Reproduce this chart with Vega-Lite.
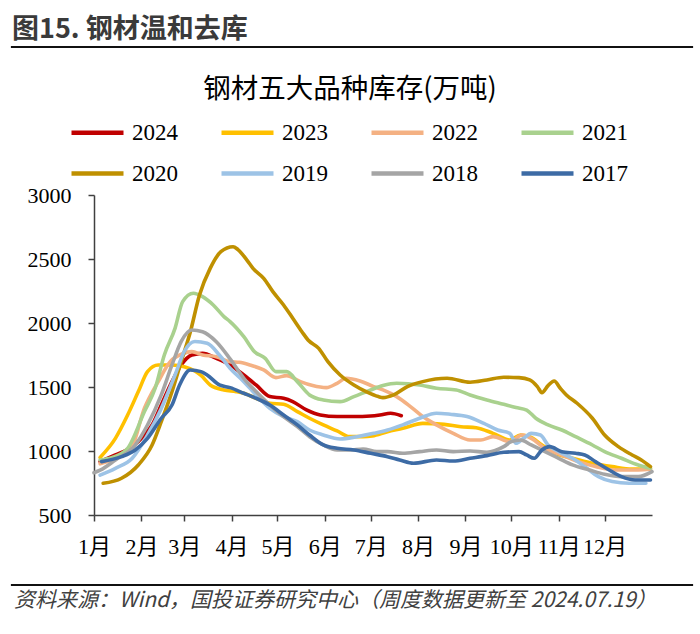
{
"$schema": "https://vega.github.io/schema/vega-lite/v6.json",
"padding": {"left": 10, "right": 10, "top": 14, "bottom": 0},
"background": "white",
"columns": 1,
"spacing": 26,
"align": "none",
"resolve": {"legend": {"color": "independent"}},
"config": {"view": {"stroke": null}, "font": "Liberation Serif"},
"concat": [
{
"width": 680, "height": 0.01,
"view": {"stroke": "#111111", "strokeWidth": 2.2},
"title": {"text": "图15. 钢材温和去库", "anchor": "start", "font": "Noto Sans CJK SC", "fontSize": 27, "fontWeight": "bold", "color": "#3a3a3a", "offset": 3},
"data": {"values": []},
"mark": "text"
},
{
"hconcat": [
{
"width": 0.01, "height": 0.01,
"data": {"values": []},
"mark": "text"
},
{
"width": 558, "height": 320,
"view": {"stroke": null},
"title": {"text": "钢材五大品种库存(万吨)", "font": "Noto Sans CJK SC", "fontSize": 27.5, "fontWeight": "normal", "color": "#000000", "anchor": "middle", "frame": "group", "dx": -23, "offset": 1},
"data": {"values": [
{"year":"2024","d":4,"v":917},{"year":"2024","d":14,"v":969},{"year":"2024","d":25,"v":1034},{"year":"2024","d":33,"v":1125},{"year":"2024","d":38,"v":1203},{"year":"2024","d":44,"v":1359},{"year":"2024","d":51,"v":1542},{"year":"2024","d":57,"v":1672},{"year":"2024","d":64,"v":1750},{"year":"2024","d":71,"v":1763},{"year":"2024","d":80,"v":1724},{"year":"2024","d":89,"v":1672},{"year":"2024","d":98,"v":1594},{"year":"2024","d":106,"v":1516},{"year":"2024","d":115,"v":1425},{"year":"2024","d":124,"v":1412},{"year":"2024","d":130,"v":1386},{"year":"2024","d":139,"v":1321},{"year":"2024","d":148,"v":1281},{"year":"2024","d":159,"v":1269},{"year":"2024","d":170,"v":1269},{"year":"2024","d":181,"v":1273},{"year":"2024","d":187,"v":1281},{"year":"2024","d":194,"v":1295},{"year":"2024","d":201,"v":1276},
{"year":"2023","d":4,"v":950},{"year":"2023","d":14,"v":1099},{"year":"2023","d":22,"v":1281},{"year":"2023","d":29,"v":1464},{"year":"2023","d":35,"v":1620},{"year":"2023","d":42,"v":1672},{"year":"2023","d":51,"v":1672},{"year":"2023","d":59,"v":1659},{"year":"2023","d":66,"v":1625},{"year":"2023","d":70,"v":1590},{"year":"2023","d":76,"v":1516},{"year":"2023","d":85,"v":1477},{"year":"2023","d":93,"v":1464},{"year":"2023","d":98,"v":1451},{"year":"2023","d":106,"v":1412},{"year":"2023","d":115,"v":1373},{"year":"2023","d":124,"v":1365},{"year":"2023","d":133,"v":1308},{"year":"2023","d":141,"v":1256},{"year":"2023","d":150,"v":1204},{"year":"2023","d":159,"v":1157},{"year":"2023","d":167,"v":1112},{"year":"2023","d":176,"v":1112},{"year":"2023","d":182,"v":1118},{"year":"2023","d":192,"v":1151},{"year":"2023","d":202,"v":1177},{"year":"2023","d":215,"v":1216},{"year":"2023","d":229,"v":1208},{"year":"2023","d":240,"v":1190},{"year":"2023","d":250,"v":1182},{"year":"2023","d":261,"v":1138},{"year":"2023","d":272,"v":1086},{"year":"2023","d":279,"v":1125},{"year":"2023","d":285,"v":1112},{"year":"2023","d":293,"v":1047},{"year":"2023","d":302,"v":982},{"year":"2023","d":313,"v":943},{"year":"2023","d":326,"v":904},{"year":"2023","d":339,"v":878},{"year":"2023","d":352,"v":859},{"year":"2023","d":364,"v":859},
{"year":"2022","d":4,"v":900},{"year":"2022","d":14,"v":940},{"year":"2022","d":24,"v":1010},{"year":"2022","d":33,"v":1334},{"year":"2022","d":42,"v":1542},{"year":"2022","d":50,"v":1700},{"year":"2022","d":58,"v":1760},{"year":"2022","d":64,"v":1776},{"year":"2022","d":71,"v":1750},{"year":"2022","d":80,"v":1737},{"year":"2022","d":89,"v":1698},{"year":"2022","d":95,"v":1693},{"year":"2022","d":102,"v":1672},{"year":"2022","d":111,"v":1633},{"year":"2022","d":119,"v":1573},{"year":"2022","d":126,"v":1589},{"year":"2022","d":135,"v":1542},{"year":"2022","d":143,"v":1511},{"year":"2022","d":152,"v":1495},{"year":"2022","d":159,"v":1529},{"year":"2022","d":165,"v":1568},{"year":"2022","d":174,"v":1547},{"year":"2022","d":183,"v":1503},{"year":"2022","d":189,"v":1477},{"year":"2022","d":198,"v":1425},{"year":"2022","d":207,"v":1347},{"year":"2022","d":215,"v":1269},{"year":"2022","d":224,"v":1204},{"year":"2022","d":235,"v":1138},{"year":"2022","d":246,"v":1086},{"year":"2022","d":253,"v":1086},{"year":"2022","d":261,"v":1112},{"year":"2022","d":272,"v":1073},{"year":"2022","d":280,"v":1125},{"year":"2022","d":286,"v":1099},{"year":"2022","d":295,"v":1021},{"year":"2022","d":306,"v":969},{"year":"2022","d":317,"v":917},{"year":"2022","d":328,"v":878},{"year":"2022","d":341,"v":852},{"year":"2022","d":356,"v":852},{"year":"2022","d":364,"v":859},
{"year":"2021","d":4,"v":930},{"year":"2021","d":12,"v":950},{"year":"2021","d":18,"v":980},{"year":"2021","d":22,"v":1021},{"year":"2021","d":33,"v":1308},{"year":"2021","d":40,"v":1490},{"year":"2021","d":46,"v":1750},{"year":"2021","d":53,"v":1958},{"year":"2021","d":58,"v":2167},{"year":"2021","d":65,"v":2232},{"year":"2021","d":71,"v":2206},{"year":"2021","d":78,"v":2141},{"year":"2021","d":85,"v":2050},{"year":"2021","d":89,"v":2011},{"year":"2021","d":98,"v":1893},{"year":"2021","d":105,"v":1776},{"year":"2021","d":112,"v":1724},{"year":"2021","d":119,"v":1620},{"year":"2021","d":126,"v":1620},{"year":"2021","d":133,"v":1542},{"year":"2021","d":141,"v":1438},{"year":"2021","d":150,"v":1399},{"year":"2021","d":161,"v":1386},{"year":"2021","d":170,"v":1425},{"year":"2021","d":181,"v":1477},{"year":"2021","d":189,"v":1511},{"year":"2021","d":198,"v":1529},{"year":"2021","d":213,"v":1516},{"year":"2021","d":224,"v":1490},{"year":"2021","d":237,"v":1477},{"year":"2021","d":246,"v":1438},{"year":"2021","d":257,"v":1399},{"year":"2021","d":268,"v":1365},{"year":"2021","d":276,"v":1340},{"year":"2021","d":283,"v":1320},{"year":"2021","d":289,"v":1256},{"year":"2021","d":297,"v":1204},{"year":"2021","d":306,"v":1164},{"year":"2021","d":315,"v":1112},{"year":"2021","d":326,"v":1047},{"year":"2021","d":334,"v":995},{"year":"2021","d":345,"v":943},{"year":"2021","d":356,"v":891},{"year":"2021","d":364,"v":865},
{"year":"2020","d":6,"v":748},{"year":"2020","d":18,"v":787},{"year":"2020","d":29,"v":891},{"year":"2020","d":38,"v":1047},{"year":"2020","d":44,"v":1229},{"year":"2020","d":51,"v":1464},{"year":"2020","d":57,"v":1698},{"year":"2020","d":63,"v":1930},{"year":"2020","d":69,"v":2219},{"year":"2020","d":76,"v":2427},{"year":"2020","d":83,"v":2557},{"year":"2020","d":91,"v":2596},{"year":"2020","d":94,"v":2575},{"year":"2020","d":100,"v":2492},{"year":"2020","d":104,"v":2427},{"year":"2020","d":111,"v":2349},{"year":"2020","d":117,"v":2245},{"year":"2020","d":124,"v":2141},{"year":"2020","d":130,"v":2037},{"year":"2020","d":136,"v":1932},{"year":"2020","d":140,"v":1867},{"year":"2020","d":147,"v":1802},{"year":"2020","d":153,"v":1698},{"year":"2020","d":161,"v":1594},{"year":"2020","d":170,"v":1516},{"year":"2020","d":178,"v":1464},{"year":"2020","d":186,"v":1425},{"year":"2020","d":189,"v":1417},{"year":"2020","d":196,"v":1438},{"year":"2020","d":205,"v":1503},{"year":"2020","d":215,"v":1542},{"year":"2020","d":231,"v":1568},{"year":"2020","d":246,"v":1537},{"year":"2020","d":257,"v":1555},{"year":"2020","d":268,"v":1576},{"year":"2020","d":278,"v":1573},{"year":"2020","d":285,"v":1555},{"year":"2020","d":290,"v":1503},{"year":"2020","d":293,"v":1456},{"year":"2020","d":297,"v":1511},{"year":"2020","d":301,"v":1547},{"year":"2020","d":305,"v":1490},{"year":"2020","d":309,"v":1438},{"year":"2020","d":316,"v":1373},{"year":"2020","d":326,"v":1256},{"year":"2020","d":334,"v":1125},{"year":"2020","d":343,"v":1034},{"year":"2020","d":352,"v":969},{"year":"2020","d":358,"v":930},{"year":"2020","d":364,"v":878},
{"year":"2019","d":4,"v":812},{"year":"2019","d":14,"v":865},{"year":"2019","d":25,"v":943},{"year":"2019","d":35,"v":1125},{"year":"2019","d":44,"v":1333},{"year":"2019","d":53,"v":1594},{"year":"2019","d":59,"v":1776},{"year":"2019","d":66,"v":1855},{"year":"2019","d":74,"v":1841},{"year":"2019","d":82,"v":1750},{"year":"2019","d":89,"v":1646},{"year":"2019","d":98,"v":1542},{"year":"2019","d":106,"v":1438},{"year":"2019","d":115,"v":1333},{"year":"2019","d":124,"v":1269},{"year":"2019","d":133,"v":1229},{"year":"2019","d":141,"v":1164},{"year":"2019","d":150,"v":1125},{"year":"2019","d":161,"v":1094},{"year":"2019","d":172,"v":1112},{"year":"2019","d":183,"v":1138},{"year":"2019","d":192,"v":1164},{"year":"2019","d":202,"v":1204},{"year":"2019","d":213,"v":1256},{"year":"2019","d":224,"v":1295},{"year":"2019","d":233,"v":1287},{"year":"2019","d":244,"v":1269},{"year":"2019","d":255,"v":1216},{"year":"2019","d":264,"v":1164},{"year":"2019","d":272,"v":1138},{"year":"2019","d":276,"v":1060},{"year":"2019","d":281,"v":1099},{"year":"2019","d":286,"v":1138},{"year":"2019","d":292,"v":1125},{"year":"2019","d":297,"v":1047},{"year":"2019","d":304,"v":995},{"year":"2019","d":313,"v":943},{"year":"2019","d":321,"v":878},{"year":"2019","d":330,"v":800},{"year":"2019","d":339,"v":761},{"year":"2019","d":350,"v":748},{"year":"2019","d":361,"v":748},
{"year":"2018","d":0,"v":830},{"year":"2018","d":4,"v":850},{"year":"2018","d":14,"v":930},{"year":"2018","d":27,"v":1047},{"year":"2018","d":35,"v":1203},{"year":"2018","d":44,"v":1438},{"year":"2018","d":51,"v":1672},{"year":"2018","d":57,"v":1855},{"year":"2018","d":64,"v":1945},{"year":"2018","d":71,"v":1932},{"year":"2018","d":80,"v":1854},{"year":"2018","d":89,"v":1720},{"year":"2018","d":98,"v":1568},{"year":"2018","d":106,"v":1464},{"year":"2018","d":115,"v":1359},{"year":"2018","d":124,"v":1269},{"year":"2018","d":133,"v":1190},{"year":"2018","d":141,"v":1112},{"year":"2018","d":150,"v":1047},{"year":"2018","d":159,"v":1008},{"year":"2018","d":167,"v":1008},{"year":"2018","d":176,"v":1016},{"year":"2018","d":185,"v":995},{"year":"2018","d":192,"v":995},{"year":"2018","d":202,"v":982},{"year":"2018","d":213,"v":995},{"year":"2018","d":224,"v":1008},{"year":"2018","d":235,"v":995},{"year":"2018","d":246,"v":1000},{"year":"2018","d":257,"v":990},{"year":"2018","d":268,"v":1034},{"year":"2018","d":273,"v":1073},{"year":"2018","d":279,"v":1086},{"year":"2018","d":286,"v":1047},{"year":"2018","d":295,"v":995},{"year":"2018","d":304,"v":943},{"year":"2018","d":313,"v":891},{"year":"2018","d":324,"v":852},{"year":"2018","d":334,"v":818},{"year":"2018","d":345,"v":800},{"year":"2018","d":356,"v":800},{"year":"2018","d":365,"v":839},
{"year":"2017","d":5,"v":917},{"year":"2017","d":18,"v":956},{"year":"2017","d":27,"v":1008},{"year":"2017","d":35,"v":1099},{"year":"2017","d":44,"v":1256},{"year":"2017","d":51,"v":1359},{"year":"2017","d":56,"v":1516},{"year":"2017","d":63,"v":1633},{"year":"2017","d":70,"v":1620},{"year":"2017","d":74,"v":1594},{"year":"2017","d":82,"v":1516},{"year":"2017","d":89,"v":1495},{"year":"2017","d":98,"v":1451},{"year":"2017","d":106,"v":1412},{"year":"2017","d":115,"v":1359},{"year":"2017","d":124,"v":1281},{"year":"2017","d":133,"v":1204},{"year":"2017","d":141,"v":1125},{"year":"2017","d":150,"v":1047},{"year":"2017","d":159,"v":1021},{"year":"2017","d":170,"v":1008},{"year":"2017","d":181,"v":982},{"year":"2017","d":192,"v":956},{"year":"2017","d":200,"v":930},{"year":"2017","d":209,"v":904},{"year":"2017","d":224,"v":930},{"year":"2017","d":235,"v":922},{"year":"2017","d":246,"v":943},{"year":"2017","d":257,"v":964},{"year":"2017","d":268,"v":990},{"year":"2017","d":278,"v":995},{"year":"2017","d":283,"v":969},{"year":"2017","d":288,"v":943},{"year":"2017","d":293,"v":1008},{"year":"2017","d":298,"v":1034},{"year":"2017","d":306,"v":995},{"year":"2017","d":315,"v":982},{"year":"2017","d":321,"v":969},{"year":"2017","d":328,"v":917},{"year":"2017","d":337,"v":852},{"year":"2017","d":345,"v":800},{"year":"2017","d":354,"v":774},{"year":"2017","d":364,"v":774}
]},
"mark": {"type": "line", "strokeWidth": 3.6, "interpolate": "monotone", "strokeCap": "round", "strokeJoin": "round"},
"encoding": {
"x": {"field": "d", "type": "quantitative", "scale": {"domain": [0, 365], "nice": false, "zero": false},
 "axis": {"values": [0,31,59,90,120,151,181,212,243,273,304,334], "labelExpr": "(indexof([0,31,59,90,120,151,181,212,243,273,304,334], datum.value) + 1) + '月'", "title": null, "grid": false, "domainColor": "#404040", "domainWidth": 1.5, "tickColor": "#404040", "tickWidth": 1.5, "tickSize": 6, "labelFont": "Liberation Serif, Noto Sans CJK SC", "labelFontSize": 22, "labelColor": "#000000", "labelPadding": 15, "labelFlush": false, "labelOverlap": false}},
"y": {"field": "v", "type": "quantitative", "scale": {"domain": [500, 3000], "nice": false, "zero": false},
 "axis": {"values": [500,1000,1500,2000,2500,3000], "format": "d", "title": null, "grid": false, "domainColor": "#404040", "domainWidth": 1.5, "tickColor": "#404040", "tickWidth": 1.5, "tickSize": 6, "labelFont": "Liberation Serif", "labelFontSize": 22, "labelColor": "#000000", "labelPadding": 17, "labelFlush": false, "minExtent": 81}},
"color": {"field": "year", "type": "nominal", "sort": null,
 "scale": {"domain": ["2024","2023","2022","2021","2020","2019","2018","2017"], "range": ["#C00000","#FFC000","#F4B183","#A9D18E","#BF9000","#9DC3E6","#A5A5A5","#3D6BA5"]},
 "legend": {"orient": "none", "legendX": -25, "legendY": -91, "direction": "horizontal", "columns": 4, "title": null, "symbolType": "stroke", "symbolSize": 2704, "symbolStrokeWidth": 4.5, "labelFont": "Liberation Serif", "labelFontSize": 23, "labelColor": "#000000", "labelOffset": 6, "columnPadding": 34, "rowPadding": -5, "gridAlign": "all", "labelLimit": 100}}
}
}
],
"spacing": 0,
"resolve": {"legend": {"color": "independent"}}
},
{
"width": 680, "height": 0.01,
"view": {"stroke": "#111111", "strokeWidth": 2.2},
"title": {"text": "资料来源：Wind，国投证券研究中心（周度数据更新至 2024.07.19）", "orient": "bottom", "anchor": "start", "font": "Noto Sans CJK SC", "fontSize": 21, "fontStyle": "italic", "fontWeight": "normal", "color": "#404040", "offset": 5, "dx": 2},
"data": {"values": []},
"mark": "text"
}
]
}
